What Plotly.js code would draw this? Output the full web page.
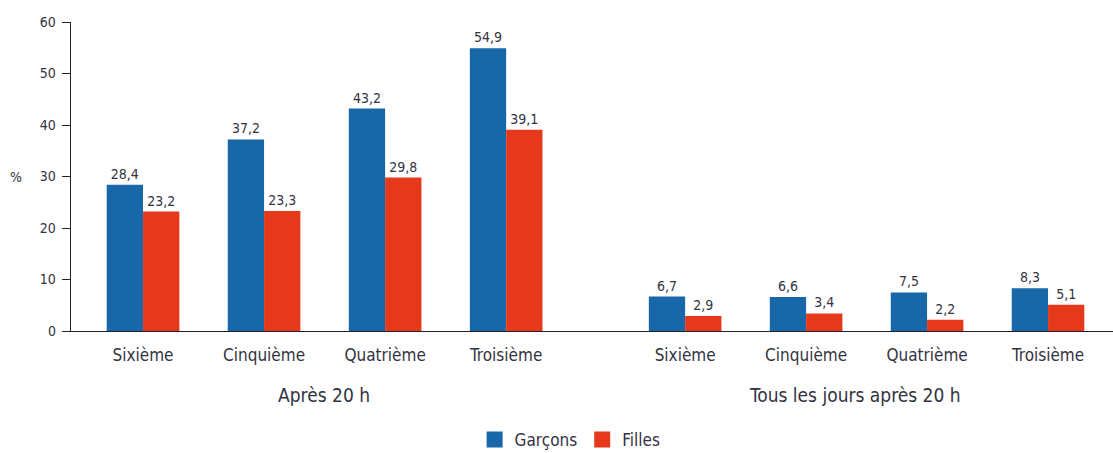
<!DOCTYPE html>
<html><head><meta charset="utf-8">
<script src="https://cdn.plot.ly/plotly-3.0.1.min.js"></script>
<style>html,body{margin:0;padding:0;background:#fff}#c{width:1113px;height:453px}</style>
</head><body><div id="c"></div>
<script>
const niveaux = ["Sixième", "Cinquième", "Quatrième", "Troisième"];
const groupe1 = "Après 20 h";
const groupe2 = "Tous les jours après 20 h";
const series = ["Garçons", "Filles"];
const garconsApres20h = [28.4, 37.2, 43.2, 54.9];
const fillesApres20h = [23.2, 23.3, 29.8, 39.1];
const garconsTousLesJours = [6.7, 6.6, 7.5, 8.3];
const fillesTousLesJours = [2.9, 3.4, 2.2, 5.1];
const yTicks = [0, 10, 20, 30, 40, 50, 60];

const BLUE = "#1767a9", RED = "#e6391b", TXT = "#33333f";
const FONT = "'DejaVu Sans Condensed', 'Liberation Sans Narrow', sans-serif";

function bar(name, x, y, color, xa) {
  return {
    type: "bar", name: name, x: x, y: y, xaxis: xa, yaxis: "y",
    marker: {color: color, line: {width: 0}},
    text: y.map(v => v.toFixed(1).replace(".", ",")),
    textposition: "outside", cliponaxis: false,
    textfont: {family: FONT, size: 14, color: TXT},
    showlegend: false, hoverinfo: "skip"
  };
}
function legendItem(name, color) {
  return {type: "scatter", mode: "markers", name: name, x: [null], y: [null],
          xaxis: "x", yaxis: "y",
          marker: {symbol: "square", size: 16, color: color}, showlegend: true, hoverinfo: "skip"};
}

const data = [
  bar(series[0], niveaux, garconsApres20h, BLUE, "x"),
  bar(series[1], niveaux, fillesApres20h, RED, "x"),
  bar(series[0], niveaux, garconsTousLesJours, BLUE, "x2"),
  bar(series[1], niveaux, fillesTousLesJours, RED, "x2"),
  legendItem(series[0], BLUE),
  legendItem(series[1], RED)
];

const xCommon = {
  type: "category", showline: true, linecolor: "#222", linewidth: 1.3,
  ticks: "", showgrid: false, zeroline: false, anchor: "y",
  tickfont: {family: FONT, size: 17, color: TXT}, ticklabelstandoff: 8
};

const layout = {
  width: 1113, height: 453,
  margin: {l: 71, r: 0, t: 22, b: 122, autoexpand: false},
  paper_bgcolor: "#fff", plot_bgcolor: "#fff",
  barmode: "group", bargap: 0.4, bargroupgap: 0,
  separators: ", ",
  font: {family: FONT, color: TXT},
  xaxis: Object.assign({}, xCommon, {domain: [0, 0.503], range: [-0.595, 3.735]}),
  xaxis2: Object.assign({}, xCommon, {domain: [0.503, 1], range: [-0.744, 3.537]}),
  yaxis: {
    range: [0, 60], tickvals: yTicks, showline: true, linecolor: "#222", linewidth: 1.3,
    ticks: "outside", ticklen: 8, tickcolor: "#222", showgrid: false, zeroline: false,
    tickfont: {family: FONT, size: 14, color: TXT}, ticklabelstandoff: 3
  },
  showlegend: true,
  legend: {orientation: "h", x: 0.479, xanchor: "center", y: -0.294, yanchor: "top",
           font: {family: FONT, size: 17, color: TXT}, itemwidth: 30, traceorder: "normal"},
  annotations: [
    {text: groupe1, xref: "paper", yref: "paper", x: 0.2428, y: -0.207, showarrow: false,
     xanchor: "center", yanchor: "middle", font: {family: FONT, size: 19, color: TXT}},
    {text: groupe2, xref: "paper", yref: "paper", x: 0.7524, y: -0.207, showarrow: false,
     xanchor: "center", yanchor: "middle", font: {family: FONT, size: 19, color: TXT}},
    {text: "%", xref: "paper", yref: "y", x: -0.053, y: 30, showarrow: false,
     xanchor: "center", yanchor: "middle", font: {family: FONT, size: 14, color: TXT}}
  ]
};

Plotly.newPlot("c", data, layout, {displayModeBar: false, staticPlot: true});
</script></body></html>
